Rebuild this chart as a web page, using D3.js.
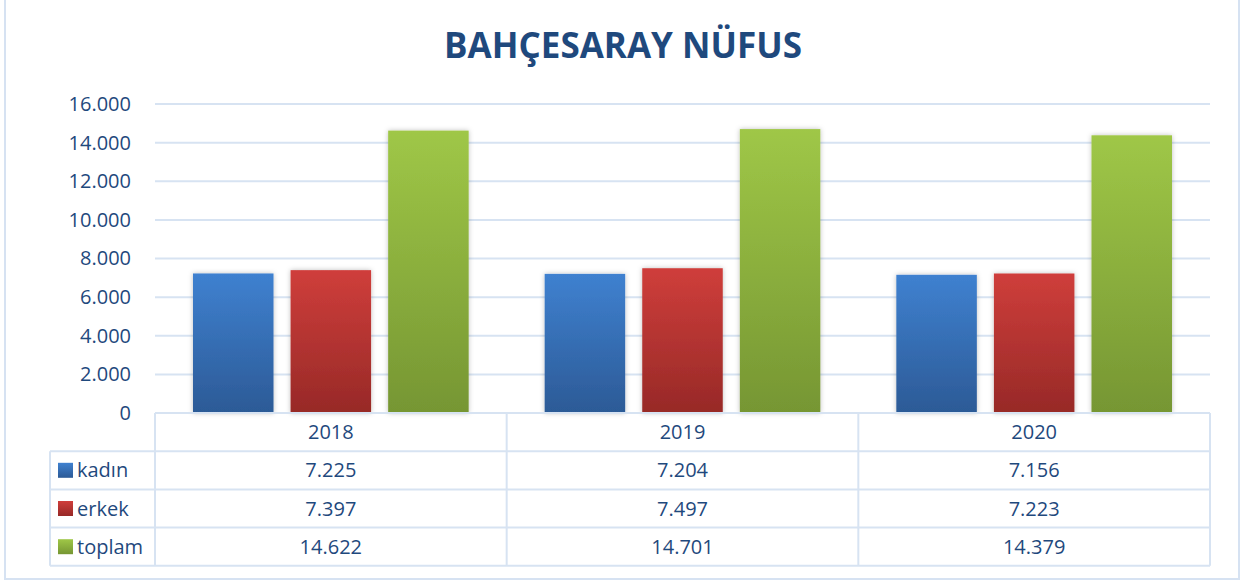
<!DOCTYPE html>
<html>
<head>
<meta charset="utf-8">
<script src="https://cdn.jsdelivr.net/npm/d3@7"></script>
<style>
  body { margin: 0; background: #fff; }
  text { font-family: "Open Sans", sans-serif; }
</style>
</head>
<body>
<div id="chart"></div>
<script>
// data
const years = ["2018", "2019", "2020"]
const seriesNames = ["kadın", "erkek", "toplam"]
const kadin = [7225, 7204, 7156]
const erkek = [7397, 7497, 7223]
const toplam = [14622, 14701, 14379]
const yTicks = [0, 2000, 4000, 6000, 8000, 10000, 12000, 14000, 16000]

const seriesValues = [kadin, erkek, toplam]
const colors = [
  { top: "#3f81d0", bottom: "#2c5a96" },
  { top: "#cf3e3b", bottom: "#972927" },
  { top: "#9fc747", bottom: "#769633" }
]
const textColor = "#1f497d"
const gridColor = "#d7e3f2"

const dimensions = {
  width: 1245,
  height: 581,
  margin: { top: 104, right: 35, bottom: 168, left: 155 }
}
dimensions.boundedWidth = dimensions.width - dimensions.margin.left - dimensions.margin.right
dimensions.boundedHeight = dimensions.height - dimensions.margin.top - dimensions.margin.bottom

const fmt = d3.formatLocale({ decimal: ",", thousands: ".", grouping: [3], currency: ["", ""] }).format(",")

const svg = d3.select("#chart").append("svg")
  .attr("width", dimensions.width)
  .attr("height", dimensions.height)

// gradients + shadow
const defs = svg.append("defs")
colors.forEach((c, i) => {
  const g = defs.append("linearGradient")
    .attr("id", "grad" + i)
    .attr("x1", 0).attr("y1", 0).attr("x2", 0).attr("y2", 1)
  g.append("stop").attr("offset", "0%").attr("stop-color", c.top)
  g.append("stop").attr("offset", "100%").attr("stop-color", c.bottom)
})
const shadow = defs.append("filter").attr("id", "shadow")
  .attr("x", "-20%").attr("y", "-5%").attr("width", "140%").attr("height", "110%")
shadow.append("feDropShadow")
  .attr("dx", 0).attr("dy", 0).attr("stdDeviation", 2.5)
  .attr("flood-color", "#000").attr("flood-opacity", 0.25)

// outer border
svg.append("rect")
  .attr("x", 5).attr("y", -2)
  .attr("width", 1234).attr("height", 581)
  .attr("fill", "none")
  .attr("stroke", "#d6e2f2")
  .attr("stroke-width", 2)

// title
svg.append("text")
  .attr("x", 623)
  .attr("y", 58)
  .attr("text-anchor", "middle")
  .attr("fill", textColor)
  .style("font-size", "35px")
  .style("font-weight", "bold")
  .text("BAHÇESARAY NÜFUS")

const bounds = svg.append("g")
  .attr("transform", `translate(${dimensions.margin.left},${dimensions.margin.top})`)

// scales
const yScale = d3.scaleLinear()
  .domain([0, 16000])
  .range([dimensions.boundedHeight, 0])

const x0 = d3.scaleBand()
  .domain(years)
  .range([0, dimensions.boundedWidth])

const x1 = d3.scaleBand()
  .domain(seriesNames)
  .range([38, x0.bandwidth() - 38])
  .paddingInner(0.175)

// grid
bounds.append("g")
  .selectAll("line")
  .data(yTicks.filter(d => d > 0))
  .join("line")
    .attr("x1", 0)
    .attr("x2", dimensions.boundedWidth)
    .attr("y1", d => yScale(d))
    .attr("y2", d => yScale(d))
    .attr("stroke", gridColor)
    .attr("stroke-width", 2)

// y axis labels
const yAxis = bounds.append("g")
  .call(d3.axisLeft(yScale).tickValues(yTicks).tickFormat(fmt).tickSize(0).tickPadding(24))
yAxis.select(".domain").remove()
yAxis.selectAll("text")
  .attr("fill", textColor)
  .style("font-size", "20px")
  .style("font-family", "'Open Sans', sans-serif")

// bars
const groups = bounds.selectAll(".year")
  .data(years)
  .join("g")
    .attr("class", "year")
    .attr("transform", d => `translate(${x0(d)},0)`)

groups.selectAll("rect")
  .data((year, yi) => seriesNames.map((s, si) => ({ s, si, value: seriesValues[si][yi] })))
  .join("rect")
    .attr("x", d => x1(d.s))
    .attr("y", d => yScale(d.value))
    .attr("width", x1.bandwidth())
    .attr("height", d => dimensions.boundedHeight - yScale(d.value))
    .attr("fill", d => `url(#grad${d.si})`)
    .attr("filter", "url(#shadow)")

// data table
const rowH = 38.2
const legendLeft = -105
const table = bounds.append("g")
  .attr("transform", `translate(0,${dimensions.boundedHeight})`)

const tableLines = []
// horizontal lines
tableLines.push([0, 0, dimensions.boundedWidth, 0])
for (let r = 1; r <= 4; r++) {
  tableLines.push([legendLeft, r * rowH, dimensions.boundedWidth, r * rowH])
}
// vertical lines
tableLines.push([legendLeft, rowH, legendLeft, 4 * rowH])
years.forEach(y => tableLines.push([x0(y), 0, x0(y), 4 * rowH]))
tableLines.push([dimensions.boundedWidth, 0, dimensions.boundedWidth, 4 * rowH])

table.selectAll("line")
  .data(tableLines)
  .join("line")
    .attr("x1", d => d[0]).attr("y1", d => d[1])
    .attr("x2", d => d[2]).attr("y2", d => d[3])
    .attr("stroke", gridColor)
    .attr("stroke-width", 2)

// header years
table.selectAll(".yearLabel")
  .data(years)
  .join("text")
    .attr("class", "yearLabel")
    .attr("x", d => x0(d) + x0.bandwidth() / 2)
    .attr("y", rowH / 2)
    .attr("dy", "0.35em")
    .attr("text-anchor", "middle")
    .attr("fill", textColor)
    .style("font-size", "20px")
    .text(d => d)

// rows
seriesNames.forEach((s, si) => {
  const rowY = (si + 1) * rowH + rowH / 2
  table.append("rect")
    .attr("x", legendLeft + 8)
    .attr("y", rowY - 7.5)
    .attr("width", 15)
    .attr("height", 15)
    .attr("fill", `url(#grad${si})`)
  table.append("text")
    .attr("x", legendLeft + 27)
    .attr("y", rowY)
    .attr("dy", "0.35em")
    .attr("fill", textColor)
    .style("font-size", "20px")
    .text(s)
  table.selectAll(".val" + si)
    .data(years)
    .join("text")
      .attr("class", "val" + si)
      .attr("x", d => x0(d) + x0.bandwidth() / 2)
      .attr("y", rowY)
      .attr("dy", "0.35em")
      .attr("text-anchor", "middle")
      .attr("fill", textColor)
      .style("font-size", "20px")
      .text((d, yi) => fmt(seriesValues[si][yi]))
})
</script>
</body>
</html>
